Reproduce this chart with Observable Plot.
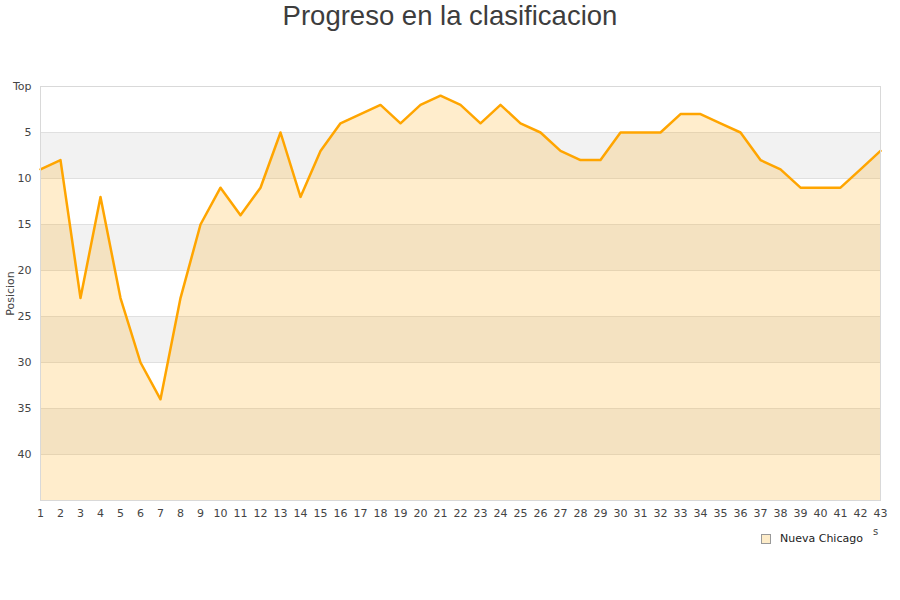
<!DOCTYPE html>
<html>
<head>
<meta charset="utf-8">
<script src="https://cdn.jsdelivr.net/npm/d3@7"></script>
<script src="https://cdn.jsdelivr.net/npm/@observablehq/plot@0.6"></script>
<style>
  body { margin: 0; background: #fff; width: 900px; height: 600px; position: relative; overflow: hidden; }
  #title { height: 40px; line-height: 32px; text-align: center; font-family: "Liberation Sans", Arial, sans-serif; font-size: 27.5px; color: #3d3d3d; }
  #legend { position: absolute; left: 761px; top: 532px; font-family: "DejaVu Sans", sans-serif; font-size: 11px; color: #222; display: flex; align-items: center; }
  #legend .sw { width: 8px; height: 8px; background: #fdecc9; border: 1px solid #999; margin-right: 9px; }
  #stray { position: absolute; left: 873px; top: 526px; font-family: "DejaVu Sans", sans-serif; font-size: 10px; color: #444; }
</style>
</head>
<body>
<div id="title">Progreso en la clasificacion</div>
<div id="chart"></div>
<div id="legend"><div class="sw"></div><span>Nueva Chicago</span></div>
<div id="stray">s</div>
<script>
const team = "Nueva Chicago";
const jornadas = d3.range(1, 44);
const posiciones = [9, 8, 23, 12, 23, 30, 34, 23, 15, 11, 14, 11, 5, 12, 7, 4, 3, 2, 4, 2, 1, 2, 4, 2, 4, 5, 7, 8, 8, 5, 5, 5, 3, 3, 4, 5, 8, 9, 11, 11, 11, 9, 7];
const yTicks = [0, 5, 10, 15, 20, 25, 30, 35, 40];
const bandStarts = [5, 15, 25, 35];
const bandWidth = 5;
const yMax = 45;

const data = jornadas.map((j, i) => ({jornada: j, pos: posiciones[i]}));
const bands = bandStarts.map(s => ({y1: s, y2: s + bandWidth}));

const chart = Plot.plot({
  width: 900,
  height: 490,
  marginTop: 46,
  marginBottom: 30,
  marginLeft: 40,
  marginRight: 20,
  style: {fontFamily: "DejaVu Sans, sans-serif", fontSize: "11px", color: "#444", background: "transparent"},
  x: {domain: [1, 43]},
  y: {domain: [0, yMax], reverse: true},
  marks: [
    Plot.rectY(bands, {x1: 1, x2: 43, y1: "y1", y2: "y2", fill: "#f2f2f2"}),
    Plot.ruleY(yTicks.filter(d => d > 0), {stroke: "#e0e0e0", strokeWidth: 1}),
    Plot.areaY(data, {x: "jornada", y1: yMax, y2: "pos", fill: "orange", fillOpacity: 0.2}),
    Plot.lineY(data, {x: "jornada", y: "pos", stroke: "#ffa500", strokeWidth: 2.5, strokeLinejoin: "round"}),
    Plot.frame({stroke: "#d9d9d9"}),
    Plot.axisX({ticks: jornadas, tickSize: 0, tickPadding: 9, tickFormat: d => String(d), label: null, fill: "#444"}),
    Plot.axisY({ticks: yTicks, tickSize: 0, tickPadding: 9, tickFormat: d => d === 0 ? "Top" : String(d),
      label: "Posicion", labelAnchor: "center", labelOffset: 34, labelArrow: false, fill: "#444"})
  ]
});
document.getElementById("chart").appendChild(chart);
</script>
</body>
</html>
